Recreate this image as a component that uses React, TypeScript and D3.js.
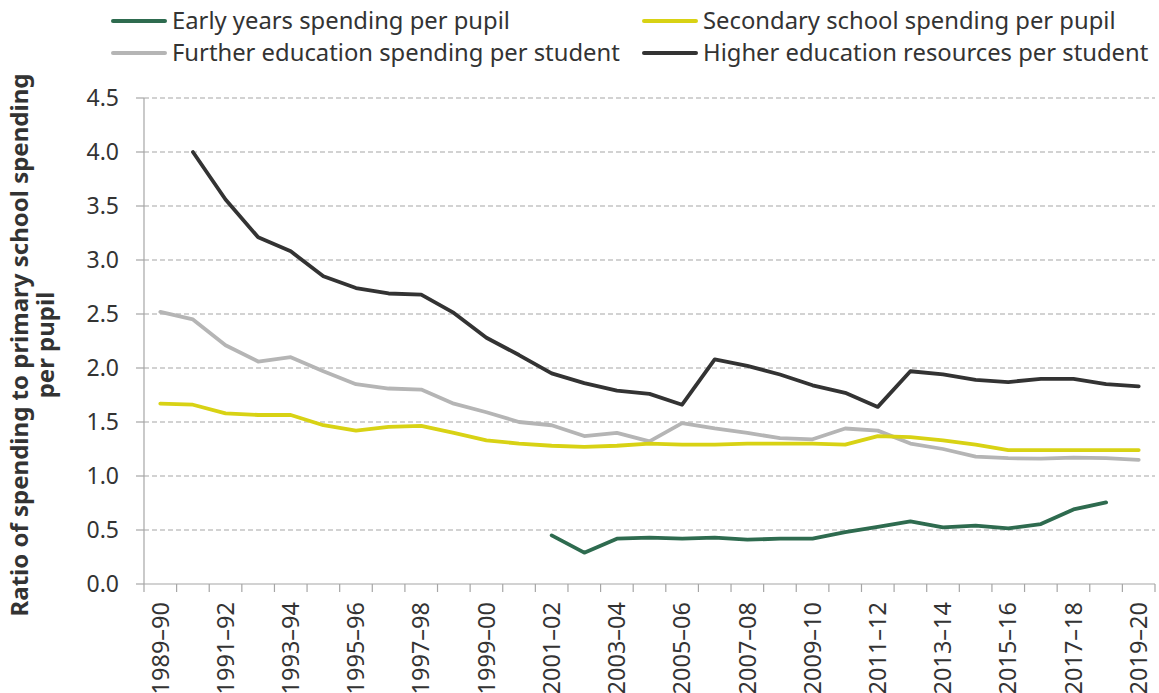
import React from "react";
import * as d3 from "d3";

const categories: string[] = [
  "1989–90","1990–91","1991–92","1992–93","1993–94","1994–95","1995–96","1996–97",
  "1997–98","1998–99","1999–00","2000–01","2001–02","2002–03","2003–04","2004–05",
  "2005–06","2006–07","2007–08","2008–09","2009–10","2010–11","2011–12","2012–13",
  "2013–14","2014–15","2015–16","2016–17","2017–18","2018–19","2019–20",
];

const earlyYears: (number | null)[] = [
  null,null,null,null,null,null,null,null,null,null,null,null,
  0.45,0.29,0.42,0.43,0.42,0.43,0.41,0.42,0.42,0.48,0.53,0.58,0.525,0.54,0.515,0.555,0.69,0.755,null,
];

const secondary: (number | null)[] = [
  1.67,1.66,1.58,1.565,1.565,1.47,1.42,1.455,1.465,1.40,1.33,1.30,1.28,1.27,1.28,1.30,
  1.29,1.29,1.30,1.30,1.30,1.29,1.37,1.36,1.33,1.29,1.24,1.24,1.24,1.24,1.24,
];

const further: (number | null)[] = [
  2.52,2.45,2.21,2.06,2.10,1.97,1.85,1.81,1.80,1.67,1.59,1.50,1.47,1.37,1.40,1.32,
  1.49,1.44,1.40,1.35,1.34,1.44,1.42,1.30,1.25,1.18,1.165,1.16,1.17,1.165,1.15,
];

const higher: (number | null)[] = [
  null,4.0,3.56,3.21,3.08,2.85,2.74,2.69,2.68,2.51,2.28,2.12,1.95,1.86,1.79,1.76,
  1.66,2.08,2.02,1.94,1.84,1.77,1.64,1.97,1.94,1.89,1.87,1.90,1.90,1.85,1.83,
];

const yTicks: number[] = [0, 0.5, 1, 1.5, 2, 2.5, 3, 3.5, 4, 4.5];
const xTickLabels: string[] = categories.filter((_, i) => i % 2 === 0);

const seriesList = [
  { name: "Early years spending per pupil", values: earlyYears, color: "#2e6b4f" },
  { name: "Secondary school spending per pupil", values: secondary, color: "#d8d214" },
  { name: "Further education spending per student", values: further, color: "#b5b5b5" },
  { name: "Higher education resources per student", values: higher, color: "#333333" },
];
const drawOrder = [2, 1, 0, 3];

const FONT = "'Noto Sans', 'Open Sans', sans-serif";

export default function App() {
  const W = 1159, H = 693;
  const left = 144, right = 1155, top = 98, bottom = 584;
  const x = d3.scaleBand<string>().domain(categories).range([left, right]).padding(0);
  const bw = x.bandwidth();
  const cx = (c: string) => (x(c) as number) + bw / 2;
  const y = d3.scaleLinear().domain([0, 4.5]).range([bottom, top]);

  const line = d3
    .line<{ c: string; v: number | null }>()
    .defined((d) => d.v != null)
    .x((d) => cx(d.c))
    .y((d) => y(d.v as number));

  const gridColor = "#a6a6a6";
  const legendPos = [
    { lx: 113, ly: 21 },
    { lx: 644, ly: 21 },
    { lx: 113, ly: 53 },
    { lx: 644, ly: 53 },
  ];

  return (
    <svg width={W} height={H} style={{ position: "absolute", left: 0, top: 0, background: "#fff" }}>
      {yTicks.filter((t) => t > 0).map((t) => (
        <line key={t} x1={left} x2={right} y1={y(t)} y2={y(t)} stroke={gridColor} strokeWidth={1.2} strokeDasharray="5,3" />
      ))}
      <line x1={left} x2={left} y1={top} y2={bottom} stroke={gridColor} strokeWidth={1.2} />
      <line x1={left} x2={right} y1={bottom} y2={bottom} stroke={gridColor} strokeWidth={1.2} />
      {yTicks.map((t) => (
        <g key={"yt" + t}>
          <line x1={left - 8} x2={left} y1={y(t)} y2={y(t)} stroke={gridColor} strokeWidth={1.2} />
          <text x={left - 25} y={y(t)} dy="0.35em" textAnchor="end" fontFamily={FONT} fontSize={23} fill="#333">
            {t.toFixed(1)}
          </text>
        </g>
      ))}
      {categories.map((c) => (
        <line key={"xt" + c} x1={x(c)} x2={x(c)} y1={bottom} y2={bottom + 8} stroke={gridColor} strokeWidth={1.2} />
      ))}
      <line x1={right} x2={right} y1={bottom} y2={bottom + 8} stroke={gridColor} strokeWidth={1.2} />
      {xTickLabels.map((c) => (
        <text
          key={"xl" + c}
          transform={`translate(${cx(c)},${bottom + 18}) rotate(-90)`}
          textAnchor="end"
          dy="0.35em"
          fontFamily={FONT}
          fontSize={23.5}
          fill="#333"
        >
          {c}
        </text>
      ))}
      <text
        transform={`translate(20,345) rotate(-90)`}
        textAnchor="middle"
        fontFamily={FONT}
        fontSize={24}
        fontWeight="bold"
        fill="#333"
      >
        <tspan x={0} dy="0.35em">Ratio of spending to primary school spending</tspan>
        <tspan x={0} dy="1.05em">per pupil</tspan>
      </text>
      {drawOrder.map((i) => {
        const s = seriesList[i];
        const data = categories.map((c, k) => ({ c, v: s.values[k] }));
        return (
          <path key={s.name} d={line(data) || ""} fill="none" stroke={s.color} strokeWidth={3.8} strokeLinejoin="round" strokeLinecap="round" />
        );
      })}
      {seriesList.map((s, i) => (
        <g key={"lg" + s.name}>
          <line x1={legendPos[i].lx} x2={legendPos[i].lx + 52} y1={legendPos[i].ly} y2={legendPos[i].ly} stroke={s.color} strokeWidth={4} strokeLinecap="round" />
          <text x={legendPos[i].lx + 59} y={legendPos[i].ly} dy="0.35em" fontFamily={FONT} fontSize={23.8} fill="#333">
            {s.name}
          </text>
        </g>
      ))}
    </svg>
  );
}
